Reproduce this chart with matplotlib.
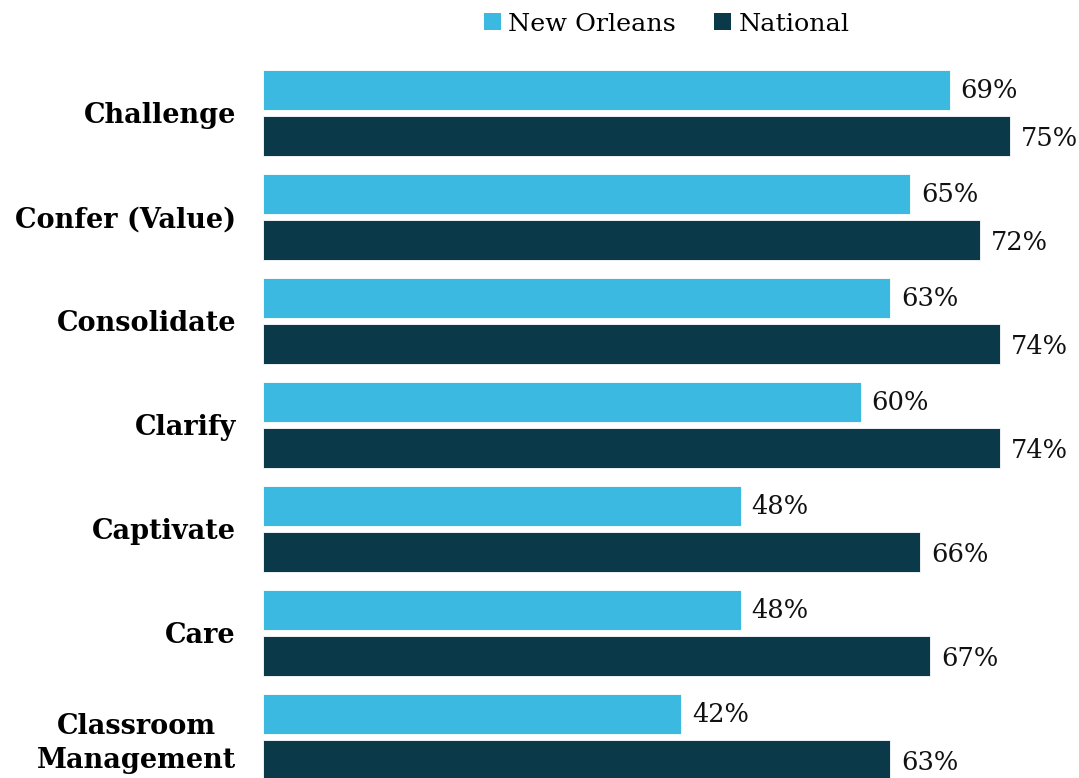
import matplotlib
matplotlib.use("Agg")
import matplotlib.pyplot as plt
import numpy as np
from matplotlib.patches import Patch

categories = ["Challenge", "Confer (Value)", "Consolidate", "Clarify", "Captivate", "Care", "Classroom\nManagement"]
new_orleans = [69, 65, 63, 60, 48, 48, 42]
national = [75, 72, 74, 74, 66, 67, 63]
series_names = ["New Orleans", "National"]

c_no = "#3BB9E0"
c_nat = "#0A3A4A"
font = "DejaVu Serif"

W, H = 1079, 778
fig = plt.figure(figsize=(W/100, H/100), dpi=100)
left = 263 / W
ax = fig.add_axes([left, 0, 1 - left, 1])

y = np.arange(len(categories))
bh = 40/104
off = 22.75/104
ax.barh(y - off, new_orleans, height=bh, color=c_no, edgecolor="white", linewidth=0.6)
ax.barh(y + off, national, height=bh, color=c_nat, edgecolor="white", linewidth=0.6)

for yi, v in zip(y, new_orleans):
    ax.text(v + 1.05, yi - off, f"{v}%", va="center", ha="left", fontsize=18.5, family=font, color="#111111")
for yi, v in zip(y, national):
    ax.text(v + 1.05, yi + off + 0.03, f"{v}%", va="center", ha="left", fontsize=18.5, family=font, color="#111111")

ax.set_xlim(0, (W - 263) / 9.96)
ax.set_ylim((H - 112.75) / 104, (0 - 112.75) / 104)
ax.set_yticks(y)
ax.set_yticklabels(categories, fontsize=19.5, fontweight="bold", family=font, linespacing=1.35,
                   multialignment="center")
ax.tick_params(axis="y", length=0, pad=19.5)
ax.set_xticks([])
for s in ax.spines.values():
    s.set_visible(False)

handles = [Patch(facecolor=c_no, label=series_names[0]), Patch(facecolor=c_nat, label=series_names[1])]
fig.legend(handles=handles, loc="upper center", bbox_to_anchor=(0.618, 1.013), ncol=2, frameon=False,
           prop={"family": font, "size": 18.3}, handlelength=0.65, handleheight=0.65, handletextpad=0.3,
           columnspacing=1.5)

fig.savefig("out.png", dpi=100)
